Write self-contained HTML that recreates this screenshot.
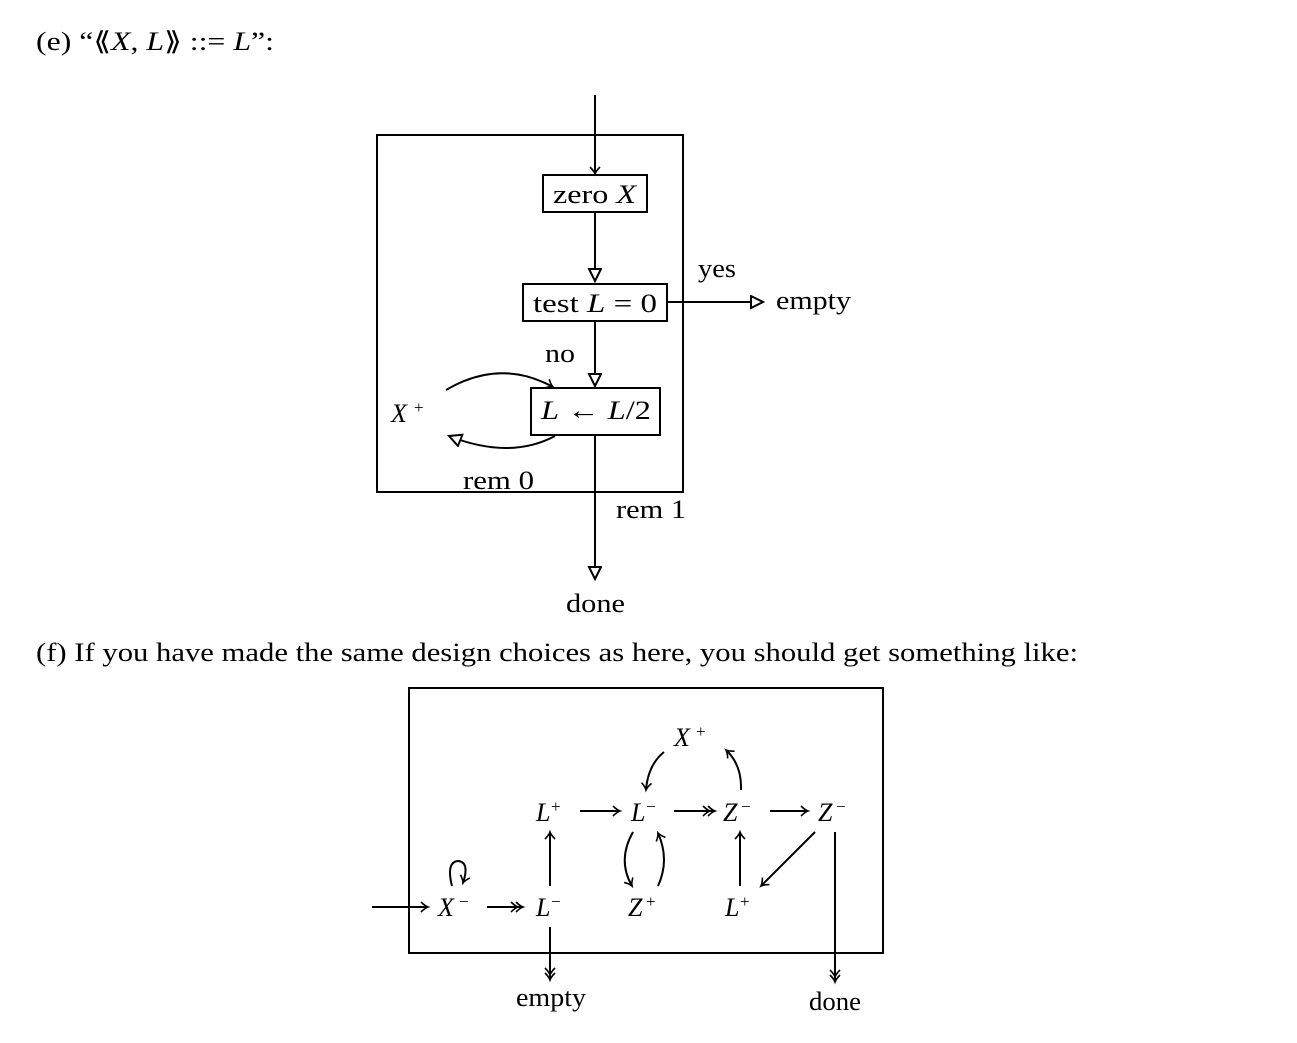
<!DOCTYPE html>
<html><head><meta charset="utf-8"><style>
html,body{margin:0;padding:0;background:#fff}
svg{display:block}
text{font-family:"Liberation Serif",serif;font-size:26px;fill:#000}
.i{font-style:italic}
.s{font-size:17px}
</style></head><body>
<svg width="1297" height="1043" viewBox="0 0 1297 1043" xmlns="http://www.w3.org/2000/svg">
<defs>
<marker id="tri" markerWidth="20" markerHeight="20" refX="13" refY="7" orient="auto" markerUnits="userSpaceOnUse">
<path d="M1,1 L13,7 L1,13 Z" fill="#fff" stroke="#000" stroke-width="2"/>
</marker>
<marker id="to" markerWidth="14" markerHeight="14" refX="8" refY="6" orient="auto" markerUnits="userSpaceOnUse">
<path d="M1,1 Q5,5 8,6 Q5,7 1,11" fill="none" stroke="#000" stroke-width="1.6"/>
</marker>
<marker id="dbl" markerWidth="18" markerHeight="14" refX="13" refY="6" orient="auto" markerUnits="userSpaceOnUse">
<path d="M1,1 Q5,5 8,6 Q5,7 1,11 M6,1 Q10,5 13,6 Q10,7 6,11" fill="none" stroke="#000" stroke-width="1.6"/>
</marker>
</defs>
<g stroke="#000" stroke-width="2" fill="none">
<rect x="377" y="135" width="306" height="357"/>
<line x1="595" y1="95" x2="595" y2="174" marker-end="url(#to)"/>
<rect x="543" y="175" width="104" height="37"/>
<line x1="595" y1="212" x2="595" y2="281" marker-end="url(#tri)"/>
<rect x="523" y="284" width="144" height="37"/>
<line x1="667" y1="302" x2="763" y2="302" marker-end="url(#tri)"/>
<line x1="595" y1="321" x2="595" y2="386" marker-end="url(#tri)"/>
<rect x="531" y="388" width="129" height="47"/>
<line x1="595" y1="435" x2="595" y2="579" marker-end="url(#tri)"/>
<path d="M446,390 Q500,358 553,387" marker-end="url(#to)"/>
<path d="M555,436 Q510,460 449,436" marker-end="url(#tri)"/>
<rect x="409" y="688" width="474" height="265"/>
<line x1="372" y1="907" x2="428" y2="907" marker-end="url(#to)"/>
<line x1="487" y1="907" x2="523" y2="907" marker-end="url(#dbl)"/>
<line x1="580" y1="811" x2="620" y2="811" marker-end="url(#to)"/>
<line x1="674" y1="811" x2="715" y2="811" marker-end="url(#dbl)"/>
<line x1="770" y1="811" x2="808" y2="811" marker-end="url(#to)"/>
<line x1="550" y1="886" x2="550" y2="832" marker-end="url(#to)"/>
<line x1="740" y1="886" x2="740" y2="832" marker-end="url(#to)"/>
<line x1="815" y1="832" x2="761" y2="886" marker-end="url(#to)"/>
<line x1="835" y1="832" x2="835" y2="982" marker-end="url(#dbl)"/>
<line x1="550" y1="927" x2="550" y2="980" marker-end="url(#dbl)"/>
<path d="M633,832 Q617,860 632,886" marker-end="url(#to)"/>
<path d="M658,886 Q670,860 658,833" marker-end="url(#to)"/>
<path d="M664,752 Q648,765 646,790" marker-end="url(#to)"/>
<path d="M741,790 Q742,765 726,750" marker-end="url(#to)"/>
<path d="M452,886 Q446,862 458,861 Q470,862 463,883" marker-end="url(#to)"/>
</g>
<text x="36" y="50" textLength="238" lengthAdjust="spacingAndGlyphs">(e)  “⟪<tspan class="i">X</tspan>, <tspan class="i">L</tspan>⟫ ::= <tspan class="i">L</tspan>”:</text>
<text x="553" y="203" textLength="83" lengthAdjust="spacingAndGlyphs">zero <tspan class="i">X</tspan></text>
<text x="533" y="312" textLength="124" lengthAdjust="spacingAndGlyphs">test <tspan class="i">L</tspan> = 0</text>
<text x="541" y="419" textLength="110" lengthAdjust="spacingAndGlyphs"><tspan class="i">L</tspan> ← <tspan class="i">L</tspan>/2</text>
<text x="698" y="277" textLength="38" lengthAdjust="spacingAndGlyphs">yes</text>
<text x="776" y="309" textLength="75" lengthAdjust="spacingAndGlyphs">empty</text>
<text x="545" y="362" textLength="30" lengthAdjust="spacingAndGlyphs">no</text>
<text x="391" y="422" class="i">X</text><text x="414" y="413" class="s">+</text>
<text x="463" y="489" textLength="71" lengthAdjust="spacingAndGlyphs">rem 0</text>
<text x="616" y="518" textLength="70" lengthAdjust="spacingAndGlyphs">rem 1</text>
<text x="566" y="612" textLength="59" lengthAdjust="spacingAndGlyphs">done</text>
<text x="36" y="661" textLength="1042" lengthAdjust="spacingAndGlyphs">(f)  If you have made the same design choices as here, you should get something like:</text>
<g>
<text x="674" y="746" class="i">X</text><text x="696" y="737" class="s">+</text>
<text x="536" y="821" class="i">L</text><text x="551" y="812" class="s">+</text>
<text x="631" y="821" class="i">L</text><text x="646" y="812" class="s">−</text>
<text x="723" y="821" class="i">Z</text><text x="741" y="812" class="s">−</text>
<text x="818" y="821" class="i">Z</text><text x="836" y="812" class="s">−</text>
<text x="438" y="916" class="i">X</text><text x="459" y="907" class="s">−</text>
<text x="536" y="916" class="i">L</text><text x="551" y="907" class="s">−</text>
<text x="628" y="916" class="i">Z</text><text x="646" y="907" class="s">+</text>
<text x="725" y="916" class="i">L</text><text x="740" y="907" class="s">+</text>
</g>
<text x="516" y="1006" textLength="70" lengthAdjust="spacingAndGlyphs">empty</text>
<text x="809" y="1010" textLength="52" lengthAdjust="spacingAndGlyphs">done</text>
</svg>
</body></html>
